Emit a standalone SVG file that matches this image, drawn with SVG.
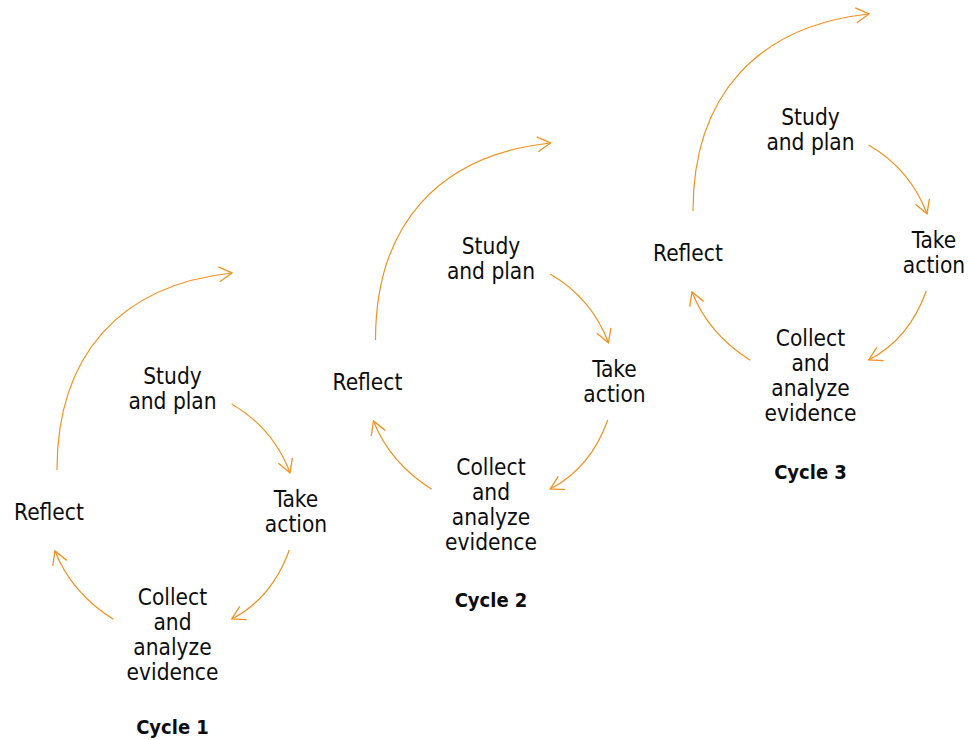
<svg xmlns="http://www.w3.org/2000/svg" width="968" height="740" viewBox="0 0 968 740">
  <style>
    .lbl { font-family: "DejaVu Sans Condensed", "DejaVu Sans", sans-serif; font-stretch: condensed; font-size: 22.5px; fill: #0d0d0d; text-anchor: middle; }
    .ttl { font-family: "DejaVu Sans Condensed", "DejaVu Sans", sans-serif; font-stretch: condensed; font-size: 20px; font-weight: bold; fill: #0d0d0d; text-anchor: middle; }
    .arc { fill: none; stroke: #F5901E; stroke-width: 1.2; marker-end: url(#open); }
  </style>
  <defs>
    <!-- open chevron arrowhead shared by every connector -->
    <marker id="open" markerUnits="userSpaceOnUse" viewBox="-15 -9 17 18" markerWidth="17" markerHeight="18" refX="0" refY="0" orient="auto">
      <path d="M-13,-7.5 L0,0 L-13,7.5" fill="none" stroke="#F5901E" stroke-width="1.3"/>
    </marker>
  </defs>

  <!-- Cycle 1 -->
  <g id="cycle1">
    <g id="c1-connectors">
      <path class="arc" d="M57,470 C57,355 120,285 232,273"/>
      <path class="arc" d="M231.7,404 Q273.1,428.2 290,472.7"/>
      <path class="arc" d="M289.3,550 Q271.9,598.3 231.7,619"/>
      <path class="arc" d="M113.3,619.3 Q71.3,592.7 55,551"/>
    </g>
    <g id="c1-study"><text class="lbl" x="172.5" y="383.5">Study</text><text class="lbl" x="172.5" y="408.5">and plan</text></g>
    <g id="c1-take"><text class="lbl" x="296" y="506.5">Take</text><text class="lbl" x="296" y="531.5">action</text></g>
    <g id="c1-collect"><text class="lbl" x="172.5" y="604.5">Collect</text><text class="lbl" x="172.5" y="629.8">and</text><text class="lbl" x="172.5" y="655.1">analyze</text><text class="lbl" x="172.5" y="680.4">evidence</text></g>
    <g id="c1-reflect"><text class="lbl" x="49" y="520">Reflect</text></g>
    <g id="c1-title"><text class="ttl" x="172.5" y="734">Cycle 1</text></g>
  </g>

  <!-- Cycle 2 -->
  <g id="cycle2" transform="translate(318.5,-130)">
    <g id="c2-connectors">
      <path class="arc" d="M57,470 C57,355 120,285 232,273"/>
      <path class="arc" d="M231.7,404 Q273.1,428.2 290,472.7"/>
      <path class="arc" d="M289.3,550 Q271.9,598.3 231.7,619"/>
      <path class="arc" d="M113.3,619.3 Q71.3,592.7 55,551"/>
    </g>
    <g id="c2-study"><text class="lbl" x="172.5" y="383.5">Study</text><text class="lbl" x="172.5" y="408.5">and plan</text></g>
    <g id="c2-take"><text class="lbl" x="296" y="506.5">Take</text><text class="lbl" x="296" y="531.5">action</text></g>
    <g id="c2-collect"><text class="lbl" x="172.5" y="604.5">Collect</text><text class="lbl" x="172.5" y="629.8">and</text><text class="lbl" x="172.5" y="655.1">analyze</text><text class="lbl" x="172.5" y="680.4">evidence</text></g>
    <g id="c2-reflect"><text class="lbl" x="49" y="520">Reflect</text></g>
    <g id="c2-title"><text class="ttl" x="172.5" y="736.5">Cycle 2</text></g>
  </g>

  <!-- Cycle 3 -->
  <g id="cycle3" transform="translate(637,-259)">
    <g id="c3-connectors">
      <path class="arc" d="M56,470 C56,355 120,285 232,273"/>
      <path class="arc" d="M231.7,404 Q273.1,428.2 290,472.7"/>
      <path class="arc" d="M289.3,550 Q271.9,598.3 231.7,619"/>
      <path class="arc" d="M113.3,619.3 Q71.3,592.7 55,551"/>
    </g>
    <g id="c3-study"><text class="lbl" x="173.5" y="383.5">Study</text><text class="lbl" x="173.5" y="408.5">and plan</text></g>
    <g id="c3-take"><text class="lbl" x="297" y="506.5">Take</text><text class="lbl" x="297" y="531.5">action</text></g>
    <g id="c3-collect"><text class="lbl" x="173.5" y="604.5">Collect</text><text class="lbl" x="173.5" y="629.8">and</text><text class="lbl" x="173.5" y="655.1">analyze</text><text class="lbl" x="173.5" y="680.4">evidence</text></g>
    <g id="c3-reflect"><text class="lbl" x="51" y="520">Reflect</text></g>
    <g id="c3-title"><text class="ttl" x="173.5" y="738">Cycle 3</text></g>
  </g>
</svg>
